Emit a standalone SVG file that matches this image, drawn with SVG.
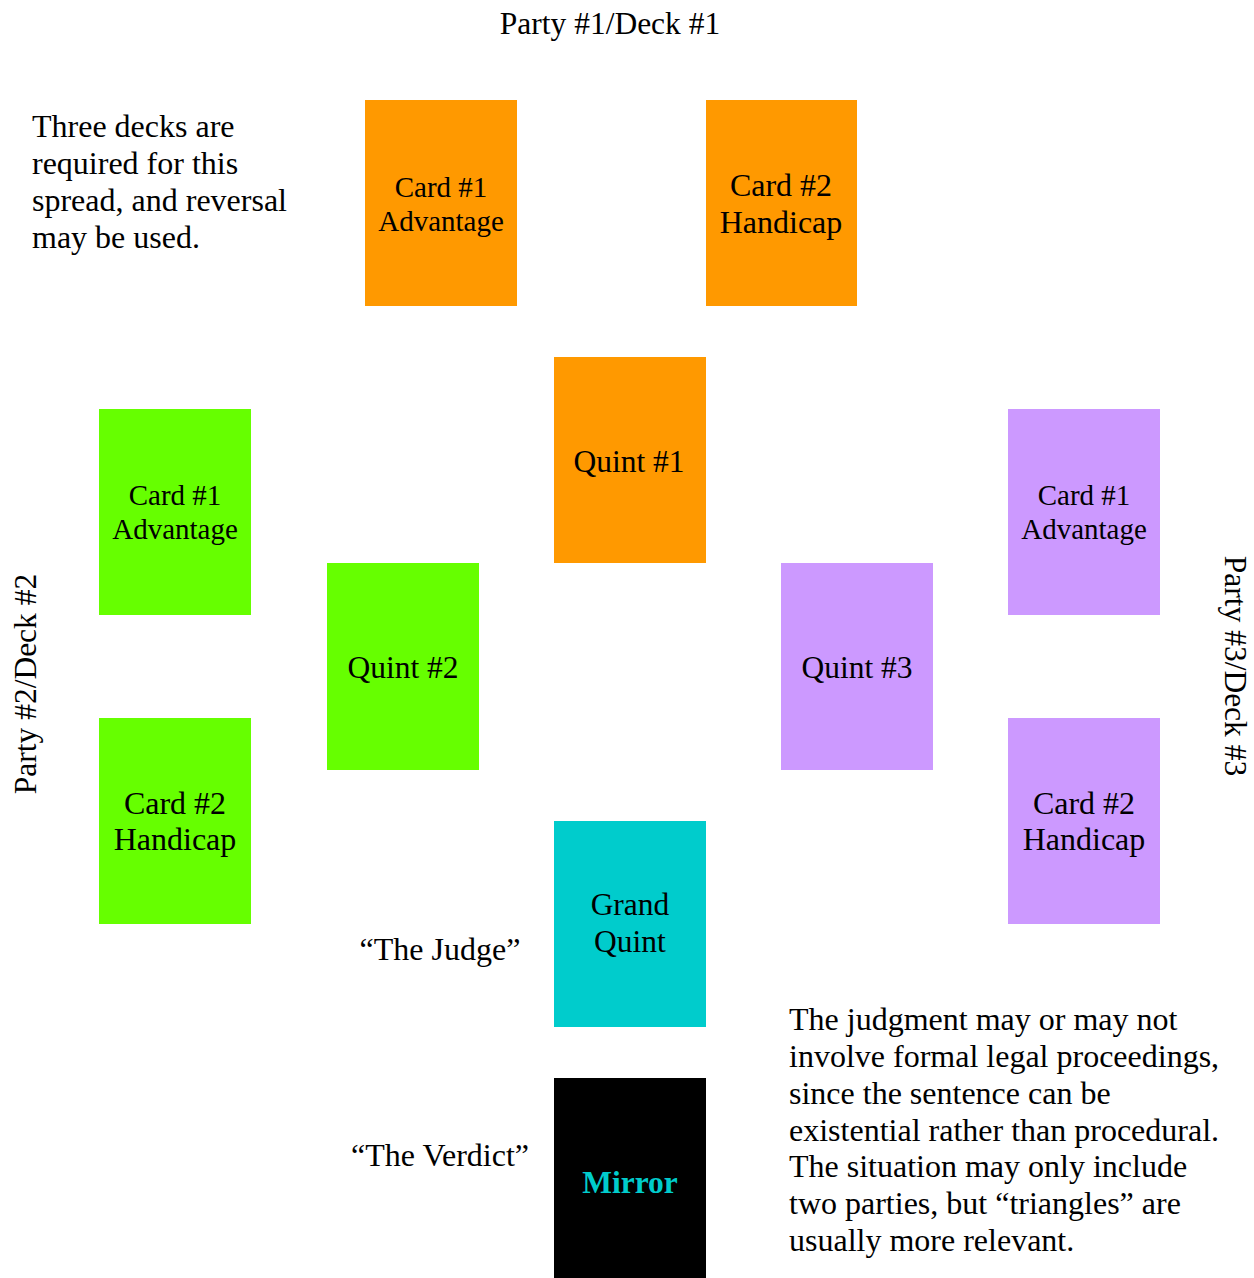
<svg xmlns="http://www.w3.org/2000/svg" width="1254" height="1278" viewBox="0 0 1254 1278">
<style>
text{font-family:"Liberation Serif","Times New Roman",serif;fill:#000}
.c{text-anchor:middle}
.s29{font-size:29px}
.s31{font-size:31.5px}
.s32{font-size:32px}
.p{font-size:32px}
.or{fill:#FF9900}
.gr{fill:#66FF00}
.pu{fill:#CC99FF}
.cy{fill:#00CCCC}
</style>
<rect width="1254" height="1278" fill="#fff"/>
<g id="title"><text class="c s31" x="610" y="34">Party #1/Deck #1</text></g>
<g id="party2"><text class="c s31" transform="translate(36,684) rotate(-90)">Party #2/Deck #2</text></g>
<g id="party3"><text class="c s31" transform="translate(1225,666) rotate(90)">Party #3/Deck #3</text></g>
<g id="note1"><text class="p" x="32"><tspan x="32" y="137">Three decks are</tspan><tspan x="32" y="174">required for this</tspan><tspan x="32" y="211">spread, and reversal</tspan><tspan x="32" y="248">may be used.</tspan></text></g>
<g id="o1"><rect class="or" x="365" y="100" width="152" height="206"/><text class="c s29" x="441"><tspan x="441" y="197">Card #1</tspan><tspan x="441" y="231">Advantage</tspan></text></g>
<g id="o2"><rect class="or" x="706" y="100" width="151" height="206"/><text class="c s32" x="781"><tspan x="781" y="196">Card #2</tspan><tspan x="781" y="233">Handicap</tspan></text></g>
<g id="q1"><rect class="or" x="554" y="357" width="152" height="206"/><text class="c s31" x="629" y="472">Quint #1</text></g>
<g id="g1"><rect class="gr" x="99" y="409" width="152" height="206"/><text class="c s29" x="175"><tspan x="175" y="505">Card #1</tspan><tspan x="175" y="539">Advantage</tspan></text></g>
<g id="g2"><rect class="gr" x="99" y="718" width="152" height="206"/><text class="c s32" x="175"><tspan x="175" y="814">Card #2</tspan><tspan x="175" y="850">Handicap</tspan></text></g>
<g id="q2"><rect class="gr" x="327" y="563" width="152" height="207"/><text class="c s31" x="403" y="678">Quint #2</text></g>
<g id="q3"><rect class="pu" x="781" y="563" width="152" height="207"/><text class="c s31" x="857" y="678">Quint #3</text></g>
<g id="p1"><rect class="pu" x="1008" y="409" width="152" height="206"/><text class="c s29" x="1084"><tspan x="1084" y="505">Card #1</tspan><tspan x="1084" y="539">Advantage</tspan></text></g>
<g id="p2"><rect class="pu" x="1008" y="718" width="152" height="206"/><text class="c s32" x="1084"><tspan x="1084" y="814">Card #2</tspan><tspan x="1084" y="850">Handicap</tspan></text></g>
<g id="grand"><rect class="cy" x="554" y="821" width="152" height="206"/><text class="c s31" x="630"><tspan x="630" y="915">Grand</tspan><tspan x="630" y="952">Quint</tspan></text></g>
<g id="judge"><text class="c s32" x="440" y="960">“The Judge”</text></g>
<g id="mirror"><rect fill="#000" x="554" y="1078" width="152" height="200"/><text class="c s31" x="630" y="1193" style="font-weight:bold;fill:#00CCCC">Mirror</text></g>
<g id="verdict"><text class="c s32" x="440" y="1166">“The Verdict”</text></g>
<g id="note2"><text class="p" x="789"><tspan x="789" y="1030">The judgment may or may not</tspan><tspan x="789" y="1067">involve formal legal proceedings,</tspan><tspan x="789" y="1104">since the sentence can be</tspan><tspan x="789" y="1141">existential rather than procedural.</tspan><tspan x="789" y="1177">The situation may only include</tspan><tspan x="789" y="1214">two parties, but “triangles” are</tspan><tspan x="789" y="1251">usually more relevant.</tspan></text></g>
<g id="connectors"></g>
</svg>
